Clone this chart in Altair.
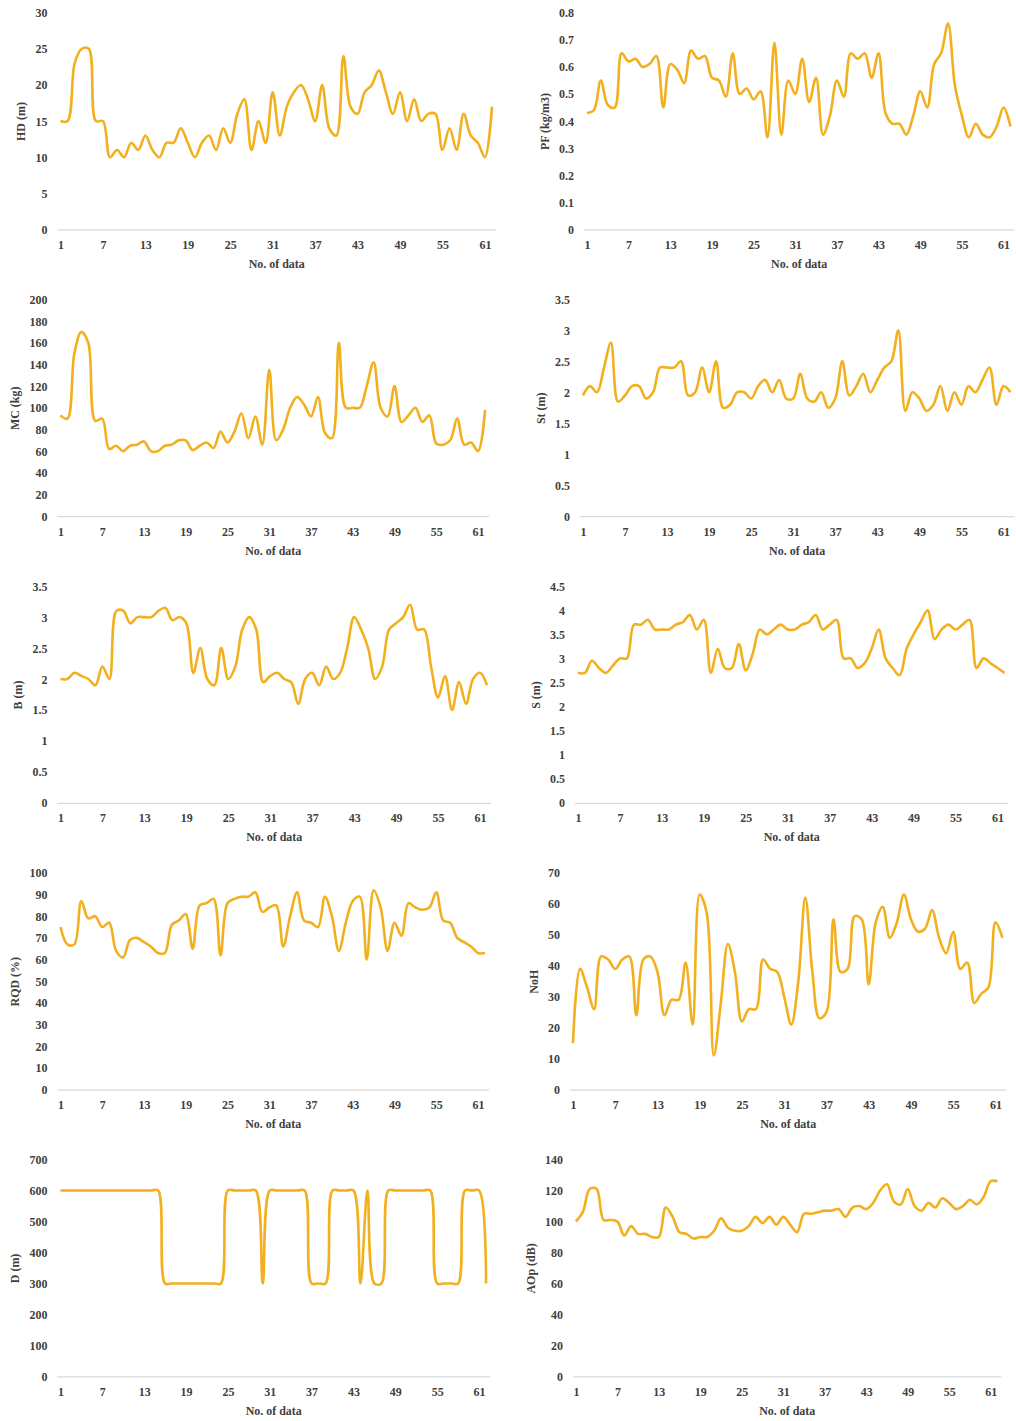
import altair as alt
import pandas as pd

idx = list(range(1, 63))

hd = [15, 15, 23, 25, 25, 15, 15, 10, 11, 10, 12, 11, 13, 11, 10, 12, 12, 14, 12, 10,
      12, 13, 11, 14, 12, 16, 18, 11, 15, 12, 19, 13, 17, 19, 20, 18, 15, 20, 14, 13,
      24, 17, 16, 19, 20, 22, 19, 16, 19, 15, 18, 15, 16, 16, 11, 14, 11, 16, 13, 12,
      10, 17]
pf = [0.43, 0.44, 0.55, 0.46, 0.45, 0.65, 0.62, 0.63, 0.60, 0.61, 0.64, 0.45, 0.61, 0.59,
      0.54, 0.66, 0.63, 0.64, 0.56, 0.55, 0.49, 0.65, 0.50, 0.52, 0.48, 0.51, 0.34, 0.69,
      0.35, 0.55, 0.50, 0.63, 0.47, 0.56, 0.35, 0.42, 0.55, 0.49, 0.65, 0.63, 0.65, 0.56,
      0.65, 0.43, 0.39, 0.39, 0.35, 0.42, 0.51, 0.45, 0.61, 0.65, 0.76, 0.53, 0.42, 0.34,
      0.39, 0.35, 0.34, 0.38, 0.45, 0.38]
mc = [93, 90, 150, 170, 160, 88, 90, 62, 65, 60, 65, 66, 69, 60, 60, 65, 66, 70, 70, 61,
      65, 68, 63, 78, 68, 78, 95, 72, 92, 66, 135, 70, 80, 100, 110, 103, 92, 110, 77, 72,
      160, 100, 100, 100, 120, 142, 100, 92, 120, 87, 93, 100, 87, 93, 67, 66, 70, 90, 66,
      68, 60, 98]
st = [1.95, 2.1, 2.0, 2.4, 2.8, 1.85, 1.95, 2.1, 2.1, 1.9, 2.0, 2.4, 2.4, 2.4, 2.5, 1.95,
      2.0, 2.4, 2.0, 2.5, 1.75, 1.8, 2.0, 2.0, 1.9, 2.1, 2.2, 2.0, 2.2, 1.9, 1.9, 2.3, 1.9,
      1.85, 2.0, 1.75, 1.9, 2.5, 1.95, 2.1, 2.3, 2.0, 2.2, 2.4, 2.5, 3.0, 1.7, 2.0, 1.9,
      1.7, 1.8, 2.1, 1.7, 2.0, 1.8, 2.1, 2.0, 2.2, 2.4, 1.8, 2.1, 2.0]
b = [2.0, 2.0, 2.1, 2.05, 2.0, 1.9, 2.2, 2.0, 3.1, 3.1, 2.9, 3.0, 3.0, 3.0, 3.1, 3.15,
     2.95, 3.0, 2.9, 2.1, 2.5, 2.0, 1.9, 2.5, 2.0, 2.2, 2.8, 3.0, 2.8, 1.95, 2.05, 2.1,
     2.0, 1.95, 1.6, 2.0, 2.1, 1.9, 2.2, 2.0, 2.1, 2.5, 3.0, 2.8, 2.5, 2.0, 2.2, 2.8, 2.9,
     3.0, 3.2, 2.8, 2.8, 2.2, 1.7, 2.05, 1.5, 1.95, 1.6, 2.0, 2.1, 1.9]
s = [2.7, 2.7, 2.95, 2.8, 2.7, 2.85, 3.0, 3.0, 3.7, 3.7, 3.8, 3.6, 3.6, 3.6, 3.7, 3.75,
     3.9, 3.6, 3.8, 2.7, 3.2, 2.8, 2.8, 3.3, 2.75, 3.1, 3.6, 3.5, 3.6, 3.7, 3.6, 3.6, 3.7,
     3.75, 3.9, 3.6, 3.7, 3.8, 3.0, 3.0, 2.8, 2.9, 3.2, 3.6, 3.0, 2.8, 2.65, 3.2, 3.5,
     3.75, 4.0, 3.4, 3.6, 3.7, 3.6, 3.7, 3.8, 2.8, 3.0, 2.9, 2.8, 2.7]
rqd = [75, 67, 67, 87, 79, 80, 75, 77, 64, 61, 69, 70, 68, 66, 63, 63, 76, 78, 81, 65,
       85, 86, 88, 62, 86, 88, 89, 89, 91, 82, 84, 85, 66, 80, 91, 78, 77, 75, 89, 80,
       64, 77, 87, 89, 60, 92, 84, 64, 77, 71, 86, 84, 83, 84, 91, 78, 77, 70, 68, 66,
       63, 63]
noh = [15, 39, 33, 26, 43, 42, 39, 42, 43, 24, 42, 43, 38, 24, 29, 29, 41, 21, 63, 57,
       11, 28, 47, 38, 22, 26, 26, 42, 39, 38, 30, 21, 35, 62, 38, 23, 25, 55, 38, 39,
       56, 55, 34, 54, 59, 49, 54, 63, 55, 51, 52, 58, 49, 44, 51, 39, 41, 28, 31, 33,
       54, 49]
d = [600, 600, 600, 600, 600, 600, 600, 600, 600, 600, 600, 600, 600, 600, 600, 300,
     300, 300, 300, 300, 300, 300, 300, 300, 600, 600, 600, 600, 600, 300, 600, 600,
     600, 600, 600, 600, 300, 300, 300, 600, 600, 600, 600, 300, 600, 300, 300, 600,
     600, 600, 600, 600, 600, 600, 300, 300, 300, 300, 600, 600, 600, 300]
aop = [100, 106, 121, 121, 101, 101, 100, 91, 97, 92, 92, 90, 90, 109, 103, 93, 92, 89,
       90, 90, 94, 102, 96, 94, 94, 97, 103, 99, 103, 98, 103, 98, 93, 105, 105, 106, 107,
       107, 108, 103, 109, 110, 108, 112, 120, 124, 113, 111, 121, 110, 107, 112, 109,
       115, 112, 108, 110, 114, 111, 116, 126, 126]

x_ticks = [1, 7, 13, 19, 25, 31, 37, 43, 49, 55, 61]

LINE = "#F2B01E"
FONT = "'Liberation Serif', 'Times New Roman', serif"
TXT = "#404040"


def panel(title, vals, ymax, ystep, width):
    df = pd.DataFrame({"n": idx, "v": vals})
    nt = int(round(ymax / ystep))
    yticks = [round(i * ystep, 4) for i in range(nt + 1)]
    return alt.Chart(df).mark_line(
        color=LINE, strokeWidth=2.6, interpolate="catmull-rom"
    ).encode(
        x=alt.X("n:Q",
                scale=alt.Scale(domain=[0.5, 62.5], nice=False, zero=False),
                axis=alt.Axis(values=x_ticks, title="No. of data", grid=False,
                              ticks=False, domainColor="#D9D9D9", domainWidth=1.2,
                              labelPadding=10, titlePadding=8, labelFlush=False)),
        y=alt.Y("v:Q",
                scale=alt.Scale(domain=[0, ymax], nice=False),
                axis=alt.Axis(values=yticks, labelExpr="'' + datum.value",
                              title=title, grid=False,
                              domain=False, ticks=False, labelPadding=10,
                              titlePadding=7)),
    ).properties(width=width, height=217)


rows = [
    (panel("HD (m)", hd, 30, 5, 439), panel("PF (kg/m3)", pf, 0.8, 0.1, 431), 41),
    (panel("MC  (kg)", mc, 200, 20, 432), panel("St (m)", st, 3.5, 0.5, 435), 44),
    (panel("B (m)", b, 3.5, 0.5, 434), panel("S (m)", s, 4.5, 0.5, 434), 37),
    (panel("RQD (%)", rqd, 100, 10, 432), panel("NoH", noh, 70, 10, 437), 37),
    (panel("D (m)", d, 700, 100, 433), panel("AOp (dB)", aop, 140, 20, 429), 33),
]

chart = alt.vconcat(
    *[alt.hconcat(l, r, spacing=sp) for l, r, sp in rows],
    spacing=24,
    padding={"left": 9, "top": 6, "right": 0, "bottom": 2},
    background="white",
).configure_axis(
    labelFont=FONT, labelFontWeight="bold", labelFontSize=12, labelColor=TXT,
    titleFont=FONT, titleFontWeight="bold", titleFontSize=12, titleColor=TXT,
).configure_view(stroke=None)

chart.save("out.html", embed_options={"renderer": "svg", "actions": False})
